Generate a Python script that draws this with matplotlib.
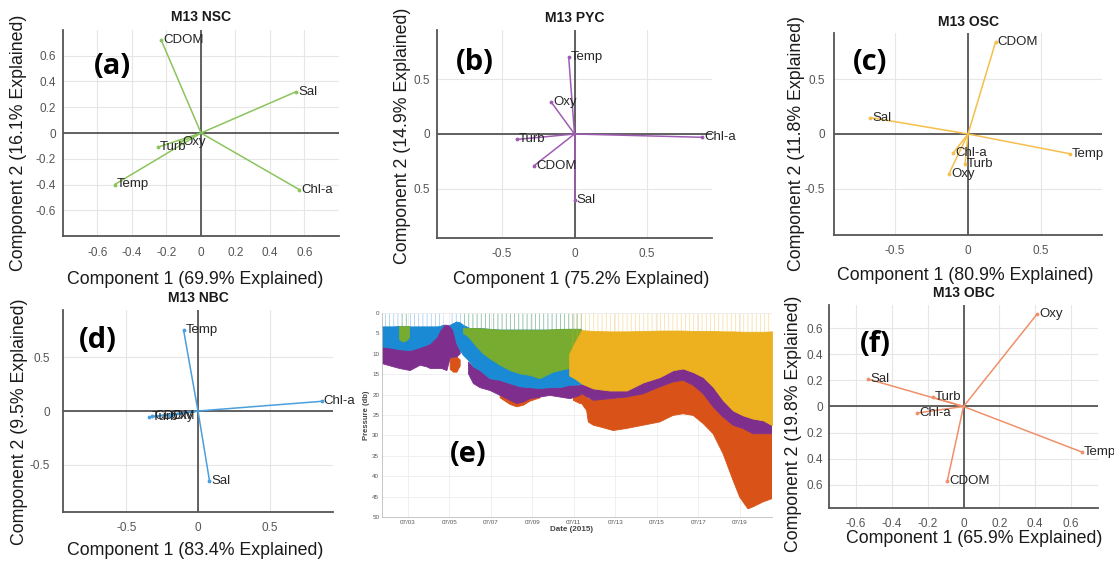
import numpy as np
import matplotlib.pyplot as plt

plt.rcParams['font.family'] = ['Liberation Sans', 'DejaVu Sans']
plt.rcParams['hatch.linewidth'] = 0.5

variables = ['Temp', 'Sal', 'Oxy', 'Chl-a', 'Turb', 'CDOM']

# PCA loadings, component 1 / component 2, one pair per water layer
nsc_pc1 = [-0.50, 0.55, -0.12, 0.57, -0.25, -0.23]
nsc_pc2 = [-0.40, 0.32, -0.07, -0.44, -0.11, 0.72]
pyc_pc1 = [-0.04, 0.00, -0.16, 0.88, -0.40, -0.28]
pyc_pc2 = [0.70, -0.60, 0.29, -0.03, -0.05, -0.29]
osc_pc1 = [0.70, -0.67, -0.13, -0.10, -0.02, 0.19]
osc_pc2 = [-0.18, 0.15, -0.36, -0.17, -0.27, 0.84]
nbc_pc1 = [-0.10, 0.08, -0.21, 0.86, -0.34, -0.32]
nbc_pc2 = [0.75, -0.65, -0.05, 0.09, -0.06, -0.05]
obc_pc1 = [0.66, -0.53, 0.41, -0.26, -0.17, -0.09]
obc_pc2 = [-0.35, 0.21, 0.71, -0.05, 0.07, -0.57]

explained = {'NSC': (69.9, 16.1), 'PYC': (75.2, 14.9), 'OSC': (80.9, 11.8),
             'NBC': (83.4, 9.5), 'OBC': (65.9, 19.8)}

nan = np.nan
# layer extents on the mooring (day of July 2015, top and bottom pressure in db)
nbc_t = [1.75, 2.31, 2.60, 3.11, 3.59, 3.91, 4.08, 4.40, 4.56, 4.72, nan,
         5.04, 5.20, 5.36, 5.52, 5.68, 5.84, 6.00, 6.16, 6.48, 6.96, 7.45,
         7.93, 8.41, 8.89, 9.37, 9.85, 10.34, 10.82, 11.06, 11.38]
nbc_top = [3.4, 3.4, 3.3, 3.4, 3.4, 3.4, 3.4, 3.4, 3.3, 3.0, nan,
           3.0, 2.6, 2.2, 2.4, 3.0, 3.4, 3.8, 3.8, 3.8, 4.0, 4.2,
           4.2, 4.2, 4.2, 4.2, 4.2, 4.1, 4.0, 4.0, 4.0]
nbc_bot = [8.3, 8.7, 9.0, 9.2, 8.5, 7.9, 7.5, 5.9, 4.2, 3.2, nan,
           3.2, 4.2, 7.5, 9.2, 10.4, 11.2, 12.0, 13.2, 14.1, 16.1, 16.5,
           17.3, 18.1, 18.3, 18.5, 18.3, 18.3, 17.7, 17.7, 17.5]

nsc_t = [2.60, 2.75, 2.95, 3.08, nan,
         5.68, 5.84, 6.00, 6.32, 6.64, 6.96, 7.45, 7.93, 8.41, 8.89, 9.37,
         9.69, 10.01, 10.34, 10.78, 11.06, 11.38]
nsc_top = [3.3, 3.3, 3.3, 3.3, nan,
           3.8, 3.8, 3.8, 3.8, 3.9, 4.0, 4.2, 4.2, 4.2, 4.2, 4.2,
           4.2, 4.1, 4.0, 4.0, 4.0, 4.0]
nsc_bot = [6.5, 7.1, 6.8, 6.0, nan,
           5.1, 5.5, 6.3, 8.3, 10.0, 11.2, 12.8, 14.1, 14.9, 15.3, 16.1,
           15.3, 14.5, 14.1, 13.6, 13.6, 13.6]

osc_t = [10.78, 11.06, 11.38, 11.94, 12.74, 13.55, 14.35, 15.15, 15.79, 16.27,
         16.76, 17.24, 17.72, 18.20, 18.68, 19.16, 19.65, 20.13, 20.56]
osc_top = [10.0, 7.1, 4.2, 4.4, 4.5, 4.5, 4.4, 4.3, 4.3, 4.3,
           4.4, 4.4, 4.4, 4.5, 4.5, 4.6, 4.6, 4.6, 4.5]
osc_bot = [15.3, 16.1, 17.3, 18.5, 19.0, 19.0, 17.0, 15.7, 14.0, 13.6,
           14.5, 15.7, 18.1, 21.4, 23.9, 25.1, 25.9, 26.3, 27.5]

pyc_t = [1.75, 2.31, 2.60, 3.11, 3.59, 3.91, 4.08, 4.40, 4.56, 4.64, 4.72,
         4.88, 5.04, 5.20, 5.36, 5.52, nan,
         5.92, 6.16, 6.48, 6.96, 7.45, 7.93, 8.25, 8.57, 8.89, 9.37, 9.85,
         10.34, 10.82, 11.30, 11.38, 11.94, 12.74, 13.55, 14.35, 15.15, 15.79,
         16.27, 16.76, 17.24, 17.72, 18.20, 18.68, 19.16, 19.65, 20.13, 20.56]
pyc_top = [8.3, 8.7, 9.0, 9.2, 8.5, 7.9, 7.5, 5.9, 4.2, 3.8, 3.0,
           3.0, 3.2, 4.2, 7.5, 9.2, nan,
           12.0, 13.2, 14.1, 16.1, 16.5, 17.3, 17.7, 18.1, 18.3, 18.5, 18.3,
           18.3, 17.7, 17.7, 17.3, 18.5, 19.0, 19.0, 17.0, 15.7, 14.0,
           13.6, 14.5, 15.7, 18.1, 21.4, 23.9, 25.1, 25.9, 26.3, 27.5]
pyc_bot = [12.4, 13.2, 13.6, 14.1, 12.8, 13.2, 13.6, 13.6, 13.6, 13.6, 13.8,
           14.1, 11.0, 10.8, 10.8, 10.0, nan,
           14.9, 17.3, 18.3, 19.0, 20.2, 21.4, 22.2, 21.8, 21.0, 20.6, 20.2,
           20.6, 21.0, 20.2, 19.8, 21.4, 21.0, 20.6, 19.8, 18.1, 16.9,
           16.5, 17.7, 19.8, 23.0, 25.5, 27.5, 28.3, 29.6, 29.6, 29.6]

obc_t = [5.04, 5.20, 5.36, 5.52, nan,
         7.45, 7.93, 8.25, 8.57, 8.89, 9.37, nan,
         10.98, 11.30, 11.38, 11.62, 11.70, 11.94, 12.26, 12.90, 13.55, 14.35,
         15.15, 15.79, 16.27, 16.76, 17.24, 17.72, 18.20, 18.68, 19.00, 19.40,
         19.65, 20.13, 20.56]
obc_top = [11.0, 10.8, 10.8, 11.5, nan,
           20.0, 21.0, 21.8, 21.5, 20.8, 20.4, nan,
           20.6, 20.0, 19.8, 20.5, 21.0, 21.4, 21.2, 21.0, 20.6, 19.8,
           18.1, 16.9, 16.5, 17.7, 19.8, 23.0, 25.5, 27.5, 28.0, 28.8,
           29.6, 29.6, 29.6]
obc_bot = [13.8, 14.5, 14.5, 13.0, nan,
           20.8, 22.4, 23.0, 22.6, 21.6, 20.8, nan,
           21.4, 22.2, 22.2, 23.9, 26.7, 27.5, 27.9, 28.8, 28.3, 27.5,
           26.7, 25.1, 24.7, 25.1, 27.1, 29.6, 34.5, 41.0, 45.1, 48.0,
           47.5, 46.3, 45.5]

date_ticks = [3, 5, 7, 9, 11, 13, 15, 17, 19]
date_labels = ['07/03', '07/05', '07/07', '07/09', '07/11', '07/13', '07/15', '07/17', '07/19']

line_colors = {'NSC': '#8cc45c', 'PYC': '#a05cb4', 'OSC': '#f4bf4c',
               'NBC': '#4a9fdc', 'OBC': '#f0906a'}
fill_colors = {'NSC': '#77AC30', 'PYC': '#7E2F8E', 'OSC': '#EDB120',
               'NBC': '#1a8ad4', 'OBC': '#D95319'}

fig = plt.figure(figsize=(11.14, 5.63), dpi=100)


def biplot(rect, pc1, pc2, name, lim, ticks, yticklabels, xpad, ypad,
           xlab_pos, ylab_pos, title_y, letter, letter_pos):
    ax = fig.add_axes(rect)
    ax.set_xlim(-lim[0], lim[0])
    ax.set_ylim(-lim[1], lim[1])
    ax.set_xticks(ticks[0])
    ax.set_yticks(ticks[1])
    ax.set_xticklabels(['0' if t == 0 else f'{t:g}' for t in ticks[0]])
    ax.set_yticklabels(yticklabels)
    ax.tick_params(length=0, labelsize=8.5, labelcolor='#555555')
    ax.tick_params(axis='x', pad=xpad)
    ax.tick_params(axis='y', pad=ypad)
    ax.grid(True, color='#e6e6e6', lw=0.8)
    ax.set_axisbelow(True)
    for s in ['top', 'right']:
        ax.spines[s].set_visible(False)
    for s in ['left', 'bottom']:
        ax.spines[s].set_color('#555555')
        ax.spines[s].set_linewidth(1.3)
    ax.axhline(0, color='#555555', lw=1.3, zorder=1)
    ax.axvline(0, color='#555555', lw=1.3, zorder=1)
    col = line_colors[name]
    for v, x, y in zip(variables, pc1, pc2):
        ax.plot([0, x], [0, y], color=col, lw=1.1, zorder=2)
        ax.plot(x, y, '.', color=col, ms=3.5, zorder=3)
        ax.annotate(v, (x, y), xytext=(1.5, 0), textcoords='offset points',
                    ha='left', va='center', fontsize=9.5, color='#262626', zorder=4)
    e1, e2 = explained[name]
    ax.set_xlabel(f'Component 1 ({e1}% Explained)', fontsize=12.8, color='#1a1a1a')
    ax.set_ylabel(f'Component 2 ({e2}% Explained)', fontsize=12.8, color='#1a1a1a')
    ax.xaxis.set_label_coords(*xlab_pos)
    ax.yaxis.set_label_coords(*ylab_pos)
    ax.text(0.5, title_y, f'M13 {name}', transform=ax.transAxes, ha='center',
            va='center', fontsize=10, fontweight='bold', color='#1a1a1a')
    fig.text(letter_pos[0] / 1114, 1 - letter_pos[1] / 563, letter,
             family='Open Sans', fontweight='bold', fontsize=21,
             ha='center', va='center')
    return ax


tk6 = [-0.6, -0.4, -0.2, 0, 0.2, 0.4, 0.6]
tk5 = [-0.5, 0, 0.5]

biplot([63 / 1114, 1 - 236 / 563, 276 / 1114, 206 / 563], nsc_pc1, nsc_pc2, 'NSC',
       (0.8, 0.8), (tk6, tk6), ['-0.6', '-0.4', '-0.2', '0', '0.2', '0.4', '0.6'],
       8, 5, (0.48, -0.17), (-0.13, 0.45), 1.063, '(a)', (112, 67))
biplot([437 / 1114, 1 - 238 / 563, 275 / 1114, 208 / 563], pyc_pc1, pyc_pc2, 'PYC',
       (0.95, 0.95), (tk5, tk5), ['0.5', '0', '0.5'],
       7.5, 5, (0.523, -0.159), (-0.095, 0.49), 1.058, '(b)', (475, 63))
biplot([834 / 1114, 1 - 235 / 563, 268 / 1114, 202 / 563], osc_pc1, osc_pc2, 'OSC',
       (0.92, 0.92), (tk5, tk5), ['-0.5', '0', '0.5'],
       7.5, 6.5, (0.489, -0.158), (-0.108, 0.455), 1.054, '(c)', (870, 63))
biplot([63 / 1114, 1 - 512 / 563, 270 / 1114, 202 / 563], nbc_pc1, nbc_pc2, 'NBC',
       (0.94, 0.94), (tk5, tk5), ['-0.5', '0', '0.5'],
       7.5, 9.5, (0.489, -0.147), (-0.13, 0.448), 1.059, '(d)', (98, 340))
biplot([829 / 1114, 1 - 508 / 563, 269 / 1114, 203 / 563], obc_pc1, obc_pc2, 'OBC',
       (0.75, 0.78), (tk6, tk6), ['0.6', '0.4', '0.2', '0', '0.2', '0.4', '0.6'],
       7.5, 4.5, (0.539, -0.108), (-0.1, 0.416), 1.059, '(f)', (875, 345))

# (e) pressure record coloured by water layer
ax = fig.add_axes([382 / 1114, 1 - 517 / 563, 390 / 1114, 204 / 563])
layers = [('OBC', obc_t, obc_top, obc_bot),
          ('PYC', pyc_t, pyc_top, pyc_bot),
          ('NBC', nbc_t, nbc_top, nbc_bot),
          ('NSC', nsc_t, nsc_top, nsc_bot),
          ('OSC', osc_t, osc_top, osc_bot)]
for name, t, top, bot in layers:
    ax.fill_between(t, top, bot, color=fill_colors[name], lw=0.6,
                    edgecolor=fill_colors[name])
# profiling casts reaching the surface above the uppermost layer
for name, t, top, bot in layers[2:]:
    ax.fill_between(t, 0.2, top, facecolor='none', edgecolor=fill_colors[name],
                    hatch='||||', lw=0, alpha=0.45)
ax.set_xlim(1.75, 20.56)
ax.set_ylim(50, 0)
ax.set_xticks(date_ticks)
ax.set_xticklabels(date_labels)
ax.set_yticks(range(0, 51, 5))
ax.tick_params(length=0, labelsize=4.5, labelcolor='#555555', pad=2)
ax.grid(True, color='#ececec', lw=0.6)
ax.set_axisbelow(True)
for s in ['top', 'right']:
    ax.spines[s].set_visible(False)
for s in ['left', 'bottom']:
    ax.spines[s].set_color('#bbbbbb')
    ax.spines[s].set_linewidth(0.6)
ax.set_xlabel('Date (2015)', fontsize=5.8, fontweight='bold', color='#444444')
ax.set_ylabel('Pressure (db)', fontsize=5.5, fontweight='bold', color='#444444')
ax.xaxis.set_label_coords(0.487, -0.045)
ax.yaxis.set_label_coords(-0.03, 0.5)
fig.text(468 / 1114, 1 - 455 / 563, '(e)', family='Open Sans', fontweight='bold',
         fontsize=21, ha='center', va='center')

fig.savefig('out.png', dpi=100)
